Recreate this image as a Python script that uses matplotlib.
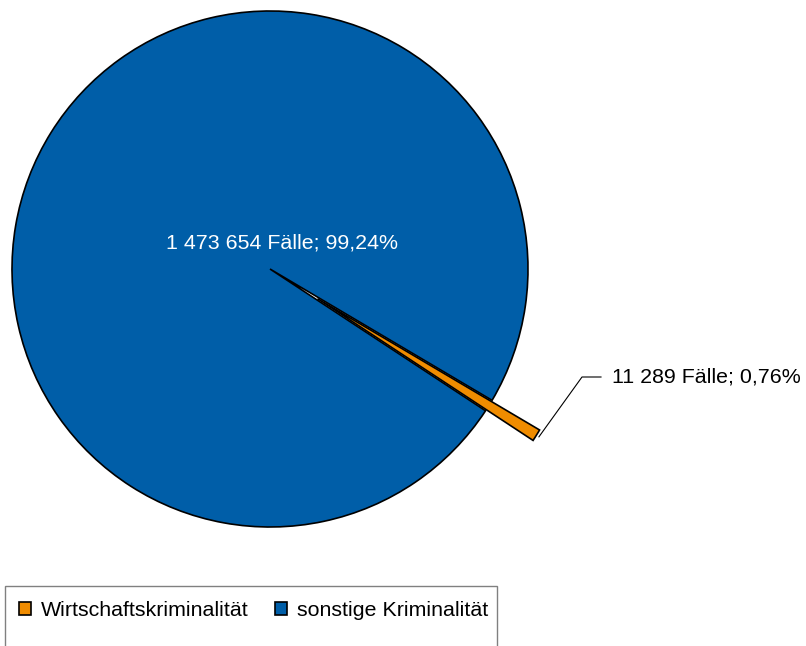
import matplotlib
matplotlib.use('Agg')
import matplotlib.pyplot as plt
from matplotlib.patches import Rectangle
import numpy as np

categories = ['Wirtschaftskriminalität', 'sonstige Kriminalität']
cases = [11289, 1473654]
labels = ['11 289 Fälle; 0,76%', '1 473 654 Fälle; 99,24%']
colors = ['#F08C00', '#005EA8']

plt.rcParams['font.family'] = ['Liberation Sans', 'DejaVu Sans']
FS = 15.4

fig = plt.figure(figsize=(8.06, 6.46), dpi=100)
ax = fig.add_axes([0, 0, 1, 1])
cx, cy, R = 270, 377, 258
# explode is in data units here (pixels)
wedges, _ = ax.pie(cases, colors=colors, startangle=-30.6, counterclock=False,
                   explode=[56, 0], center=(cx, cy), radius=R,
                   wedgeprops=dict(edgecolor='black', linewidth=1.2))
ax.set_xlim(0, 806)
ax.set_ylim(0, 646)
ax.set_aspect('equal')
ax.axis('off')

# label for large slice
ax.text(cx + 12, cy + 26, labels[1], color='white', fontsize=FS,
        ha='center', va='center')

# leader line & label for small slice
w = wedges[0]
mid = np.deg2rad((w.theta1 + w.theta2) / 2)
wx, wy = w.center
sx, sy = wx + (w.r + 3) * np.cos(mid), wy + (w.r + 3) * np.sin(mid)
ax.plot([sx, 582, 601], [sy, 269, 269], color='black', lw=0.8)
ax.text(612, 269, labels[0], color='black', fontsize=FS, ha='left', va='center')

# legend
fig.patches.append(Rectangle((5 / 806, -0.1), 492 / 806, 0.1 + 60 / 646,
                             transform=fig.transFigure, facecolor='none',
                             edgecolor='#808080', linewidth=1.0))
fig.legend(wedges, categories, loc='center left',
           bbox_to_anchor=(19 / 806, (646 - 611) / 646), ncol=2,
           frameon=False, fontsize=FS, borderpad=0, borderaxespad=0,
           handlelength=0.56, handleheight=0.56, handletextpad=0.45,
           columnspacing=1.25)

fig.savefig('out.png', dpi=100)
